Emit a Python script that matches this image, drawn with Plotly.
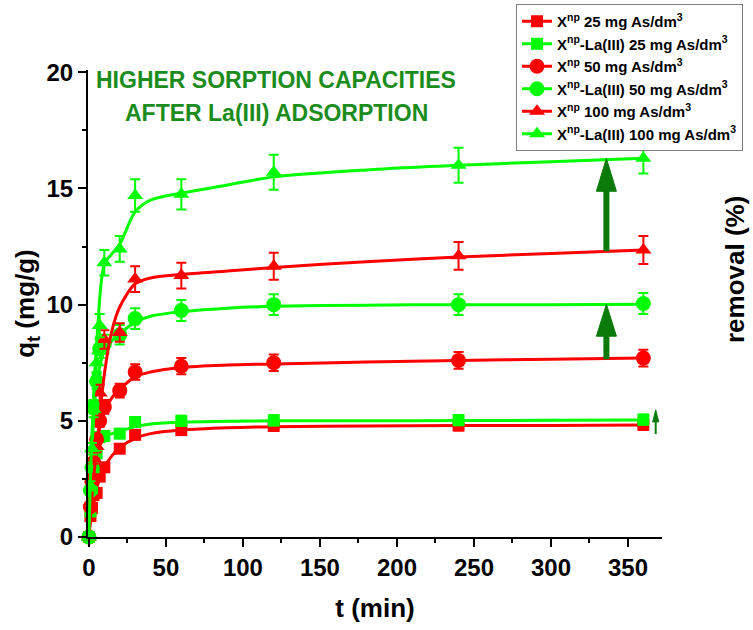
import plotly.graph_objects as go

# ---- measured kinetics (time in min, q_t in mg/g) ----
t_min = [0, 1, 2, 3, 5, 7, 10, 20, 30, 60, 120, 240, 360]

q_np_25 = [0, 0.9, 1.25, 1.8, 1.9, 2.6, 3.0, 3.8, 4.4, 4.6, 4.78, 4.8, 4.83]
q_la_25 = [0, 1.1, 2.1, 3.0, 3.6, 4.3, 4.35, 4.45, 4.95, 5.0, 5.02, 5.03, 5.05]
q_np_50 = [0, 1.3, 2.4, 3.2, 4.2, 5.0, 5.6, 6.3, 7.1, 7.35, 7.5, 7.6, 7.7]
q_la_50 = [0, 2.0, 3.0, 5.6, 6.7, 8.1, 8.3, 8.7, 9.4, 9.75, 10.0, 10.0, 10.05]
q_np_100 = [0, 1.5, 2.5, 3.4, 3.9, 6.2, 8.5, 8.8, 11.1, 11.25, 11.65, 12.1, 12.35]
q_la_100 = [0, 2.2, 3.8, 5.5, 7.5, 9.1, 11.8, 12.4, 14.7, 14.75, 15.7, 16.0, 16.3]

err_np_25 = [0, 0.1, 0.1, 0.12, 0.12, 0.15, 0.15, 0.18, 0.2, 0.2, 0.22, 0.22, 0.22]
err_la_25 = [0, 0.1, 0.12, 0.15, 0.18, 0.2, 0.2, 0.2, 0.22, 0.22, 0.22, 0.22, 0.22]
err_np_50 = [0, 0.1, 0.15, 0.2, 0.22, 0.25, 0.3, 0.3, 0.33, 0.35, 0.35, 0.36, 0.36]
err_la_50 = [0, 0.15, 0.2, 0.3, 0.32, 0.4, 0.4, 0.42, 0.45, 0.45, 0.45, 0.45, 0.45]
err_np_100 = [0, 0.12, 0.2, 0.25, 0.25, 0.35, 0.4, 0.4, 0.55, 0.55, 0.58, 0.6, 0.6]
err_la_100 = [0, 0.2, 0.25, 0.35, 0.4, 0.5, 0.55, 0.55, 0.7, 0.65, 0.75, 0.75, 0.65]

# ---- kinetic model curves (sampled) ----
t_fit = [0, 2, 5, 10, 15, 20, 30, 40, 60, 90, 120, 180, 240, 300, 360]

fit_np_25 = [0, 1.2, 2.1, 3.0, 3.5, 3.85, 4.25, 4.45, 4.6, 4.7, 4.75, 4.78, 4.8, 4.8, 4.82]
fit_la_25 = [0, 2.4, 4.0, 4.35, 4.45, 4.55, 4.75, 4.86, 4.95, 4.98, 5.0, 5.0, 5.01, 5.02, 5.04]
fit_np_50 = [0, 2.3, 4.0, 5.4, 6.0, 6.35, 6.9, 7.1, 7.3, 7.4, 7.45, 7.53, 7.6, 7.65, 7.7]
fit_la_50 = [0, 3.8, 6.6, 8.0, 8.45, 8.75, 9.25, 9.5, 9.7, 9.85, 9.93, 9.98, 10.0, 10.0, 10.02]
fit_np_100 = [0, 1.8, 3.8, 7.0, 8.9, 9.9, 10.9, 11.15, 11.3, 11.45, 11.6, 11.85, 12.05, 12.2, 12.35]
fit_la_100 = [0, 4.5, 8.3, 11.75, 12.2, 12.6, 14.0, 14.5, 14.8, 15.15, 15.5, 15.8, 16.0, 16.15, 16.3]

legend_names = [
    "X<sup>np</sup> 25 mg As/dm<sup>3</sup>",
    "X<sup>np</sup>-La(III) 25 mg As/dm<sup>3</sup>",
    "X<sup>np</sup> 50 mg As/dm<sup>3</sup>",
    "X<sup>np</sup>-La(III) 50 mg As/dm<sup>3</sup>",
    "X<sup>np</sup> 100 mg As/dm<sup>3</sup>",
    "X<sup>np</sup>-La(III) 100 mg As/dm<sup>3</sup>",
]

RED = "#ff0000"
GREEN = "#00ff00"
DARK_GREEN = "#0a7a0a"
TEXT_GREEN = "#1c8c1c"
FONT = "Liberation Sans, Arial, sans-serif"

series = [
    (q_np_25, err_np_25, fit_np_25, RED, "square", 12),
    (q_la_25, err_la_25, fit_la_25, GREEN, "square", 12),
    (q_np_50, err_np_50, fit_np_50, RED, "circle", 15),
    (q_la_50, err_la_50, fit_la_50, GREEN, "circle", 15),
    (q_np_100, err_np_100, fit_np_100, RED, "triangle-up", 14),
    (q_la_100, err_la_100, fit_la_100, GREEN, "triangle-up", 14),
]

# figure geometry
M_L, M_R, M_T, M_B = 88, 91, 70, 93
FIG_W, FIG_H = 753, 630
X_RANGE = [-0.6, 372.1]
Y_RANGE = [0, 20.1]
PLOT_W = FIG_W - M_L - M_R
PLOT_H = FIG_H - M_T - M_B
PX_X = (X_RANGE[1] - X_RANGE[0]) / PLOT_W   # minutes per pixel
PX_Y = (Y_RANGE[1] - Y_RANGE[0]) / PLOT_H   # mg/g per pixel


def px_to_paper(px, py):
    return (px - M_L) / PLOT_W, (FIG_H - M_B - py) / PLOT_H


fig = go.Figure()

for i, (q, e, f, color, sym, size) in enumerate(series):
    fig.add_trace(go.Scatter(
        x=t_fit, y=f, mode="lines",
        line=dict(color=color, width=3, shape="spline", smoothing=0.8),
        showlegend=False, hoverinfo="skip", cliponaxis=False,
    ))
    fig.add_trace(go.Scatter(
        x=t_min, y=q, mode="markers",
        marker=dict(color=color, symbol=sym, size=size, line=dict(width=0)),
        error_y=dict(type="data", array=e, color=color, thickness=2, width=5),
        showlegend=False, cliponaxis=False,
    ))

# legend entries (line + marker)
for i, (q, e, f, color, sym, size) in enumerate(series):
    fig.add_trace(go.Scatter(
        x=[None], y=[None], mode="lines+markers", name=legend_names[i],
        line=dict(color=color, width=3),
        marker=dict(color=color, symbol=sym, size=size),
        legendgroup=f"g{i}",
    ))


def arrow_shapes(x, y0, y1, shaft_px, head_len_px, head_w_px, color):
    head_len = head_len_px * PX_Y
    half_w = head_w_px / 2 * PX_X
    base = y1 - head_len
    return [
        dict(type="line", x0=x, x1=x, y0=y0, y1=base + head_len * 0.1,
             line=dict(color=color, width=shaft_px)),
        dict(type="path",
             path=f"M {x - half_w},{base} L {x},{y1} L {x + half_w},{base} Z",
             fillcolor=color, line=dict(color=color, width=1)),
    ]


ARROW_T = 336
shapes = []
shapes += arrow_shapes(ARROW_T, fit_np_100[-1] - 0.05, fit_la_100[-1], 6, 33, 20, DARK_GREEN)
shapes += arrow_shapes(ARROW_T, fit_np_50[-1] - 0.05, fit_la_50[-1], 6, 32, 20, DARK_GREEN)
shapes += arrow_shapes(368, q_np_25[-1] - 0.4, q_la_25[-1] + 0.42, 2, 12, 6, DARK_GREEN)

bold_title = dict(family=FONT, size=23, color=TEXT_GREEN, weight="bold")
tx1, ty1 = px_to_paper(276, 80)
tx2, ty2 = px_to_paper(276, 113)
rx, ry = px_to_paper(735, 270)
annotations = [
    dict(text="HIGHER SORPTION CAPACITIES", xref="paper", yref="paper",
         x=tx1, y=ty1, showarrow=False, xanchor="center", yanchor="middle",
         font=bold_title),
    dict(text="AFTER La(III) ADSORPTION", xref="paper", yref="paper",
         x=tx2, y=ty2, showarrow=False, xanchor="center", yanchor="middle",
         font=bold_title),
    # right-hand axis label
    dict(text="removal (%)", xref="paper", yref="paper", x=rx, y=ry,
         showarrow=False, xanchor="center", yanchor="middle", textangle=-90,
         font=dict(family=FONT, size=26, color="black", weight="bold")),
]

axis_common = dict(
    showgrid=False, zeroline=False, showline=True, linecolor="black", linewidth=2,
    ticks="outside", ticklen=8, tickwidth=2, tickcolor="black",
    tickfont=dict(family=FONT, size=24, color="black", weight="bold"),
)

lx, ly = px_to_paper(516, 4)
fig.update_layout(
    width=FIG_W, height=FIG_H,
    margin=dict(l=M_L, r=M_R, t=M_T, b=M_B, autoexpand=False),
    plot_bgcolor="white", paper_bgcolor="white",
    xaxis=dict(
        range=X_RANGE, tick0=0, dtick=50, **axis_common,
        minor=dict(dtick=25, ticks="outside", ticklen=4, tickwidth=2, tickcolor="black"),
        title=dict(text="t (min)", standoff=19,
                   font=dict(family=FONT, size=26, color="black", weight="bold")),
    ),
    yaxis=dict(
        range=Y_RANGE, tick0=0, dtick=5, **axis_common,
        minor=dict(dtick=2.5, ticks="outside", ticklen=4, tickwidth=2, tickcolor="black"),
        title=dict(text="q<sub>t</sub> (mg/g)", standoff=4,
                   font=dict(family=FONT, size=26, color="black", weight="bold")),
    ),
    legend=dict(
        x=lx, y=ly, xanchor="left", yanchor="top",
        bgcolor="white", bordercolor="#808080", borderwidth=1,
        font=dict(family=FONT, size=15, color="black", weight="bold"),
        tracegroupgap=0, itemwidth=30,
    ),
    shapes=shapes,
    annotations=annotations,
)

fig.write_html("out.html")
